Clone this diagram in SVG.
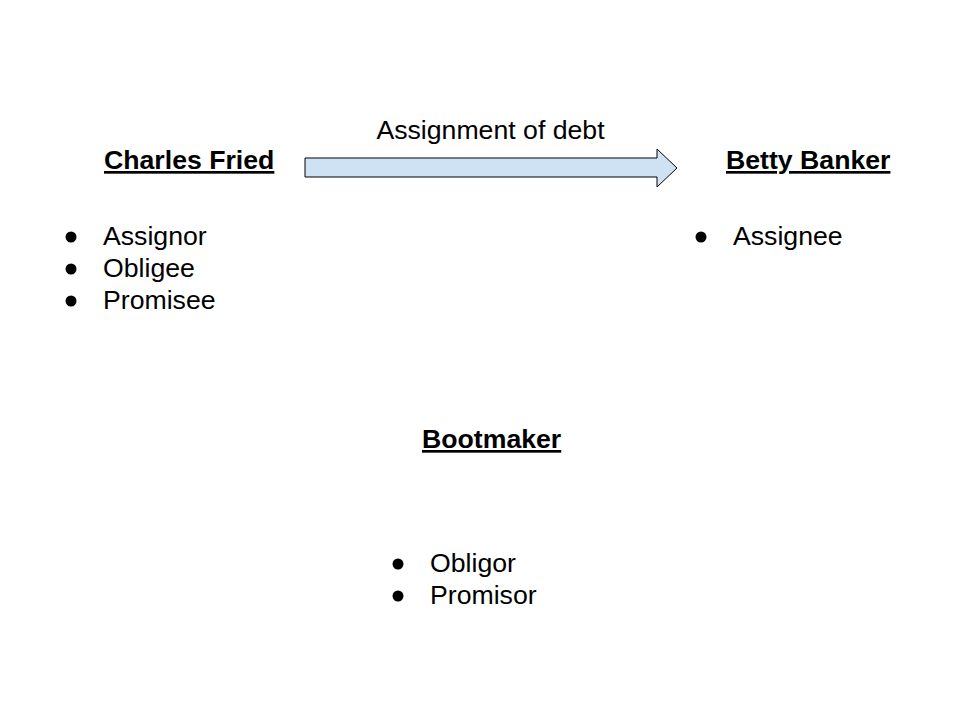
<svg xmlns="http://www.w3.org/2000/svg" width="960" height="720" viewBox="0 0 960 720">
<style>
text{font-family:"Liberation Sans",Arial,sans-serif;font-size:26.67px;fill:#000}
.h{font-weight:bold;text-decoration:underline}
.b{fill:#000}
</style>
<rect width="960" height="720" fill="#fff"/>
<g id="connectors">
<polygon points="305,158 657,158 657,149 677,168 657,187 657,177 305,177" fill="#cfe2f3" stroke="#000" stroke-width="1"/>
<text x="490.5" y="139" text-anchor="middle">Assignment of debt</text>
</g>
<g id="charles">
<text class="h" x="104" y="169">Charles Fried</text>
<circle class="b" cx="71" cy="237" r="5.5"/>
<circle class="b" cx="71" cy="269" r="5.5"/>
<circle class="b" cx="71" cy="301" r="5.5"/>
<text x="103" y="245">Assignor</text>
<text x="103" y="277">Obligee</text>
<text x="103" y="309">Promisee</text>
</g>
<g id="betty">
<text class="h" x="726" y="169">Betty Banker</text>
<circle class="b" cx="701" cy="237" r="5.5"/>
<text x="733" y="245">Assignee</text>
</g>
<g id="bootmaker">
<text class="h" x="422" y="448">Bootmaker</text>
<circle class="b" cx="398" cy="564" r="5.5"/>
<circle class="b" cx="398" cy="596" r="5.5"/>
<text x="430" y="572">Obligor</text>
<text x="430" y="604">Promisor</text>
</g>
</svg>
